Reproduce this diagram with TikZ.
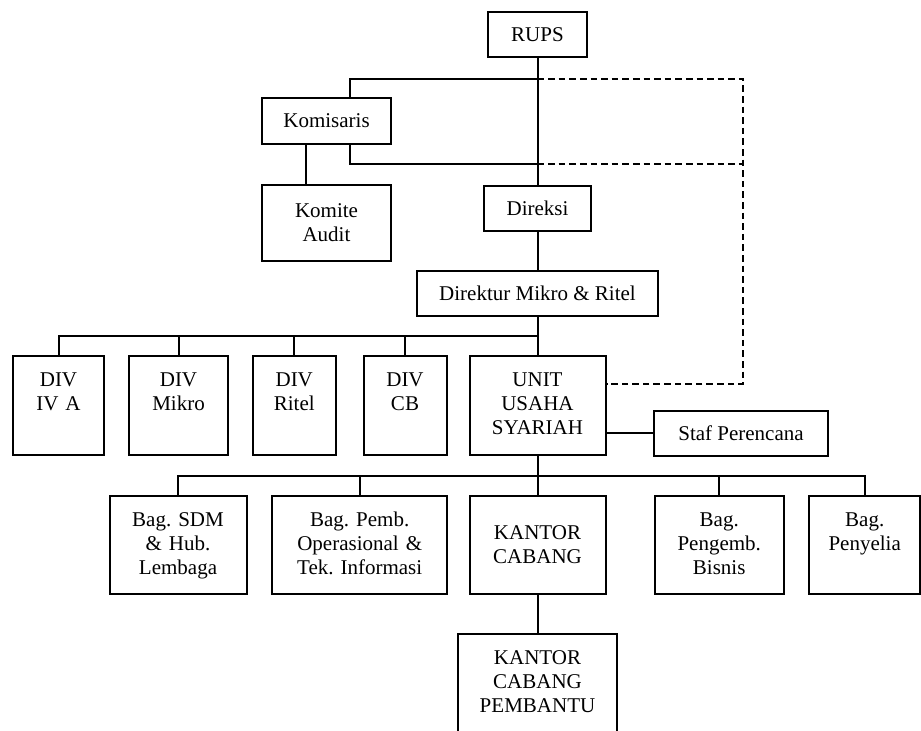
\documentclass[tikz,border=0pt]{standalone}
\usepackage{fontspec}
\setmainfont{Liberation Serif}
\usetikzlibrary{calc}

\tikzset{
  orgbox/.style={draw, line width=1pt, inner sep=0pt, align=center,
    font=\fontsize{10.5pt}{12pt}\selectfont\frenchspacing},
  topbox/.style 2 args={orgbox, text width=#1, text height=15.5pt, text depth=#2},
  link/.style={line width=1pt},
  dotlink/.style={line width=1pt, dash pattern=on 3.3pt off 2pt}
}

\begin{document}
\begin{tikzpicture}[x=0.5pt,y=-0.5pt]
  \useasboundingbox (0,0) rectangle (921,731);
  \clip (0,0) rectangle (921,731);

  % board level
  \node[orgbox, minimum width=49.5pt, minimum height=22.5pt] (rups) at (537.5,34.5) {RUPS};
  \node[orgbox, minimum width=64.5pt, minimum height=23pt] (kom) at (326.5,121) {Komisaris};
  \node[orgbox, minimum width=64.5pt, minimum height=38pt] (audit) at (326.5,223) {Komite\\Audit};
  \node[orgbox, minimum width=53.5pt, minimum height=22.5pt] (direksi) at (537.5,208.5) {Direksi};
  \node[orgbox, minimum width=120.5pt, minimum height=22.5pt] (dir) at (537.5,293.5) {Direktur Mikro \& Ritel};

  % divisions
  \node[topbox={45.5pt}{34pt}] (div1) at (58.5,405.5) {DIV\\IV A};
  \node[topbox={49.5pt}{34pt}] (div2) at (178.5,405.5) {DIV\\Mikro};
  \node[topbox={41.75pt}{34pt}] (div3) at (294.25,405.5) {DIV\\Ritel};
  \node[topbox={41.5pt}{34pt}] (div4) at (405,405.5) {DIV\\CB};
  \node[topbox={68pt}{34pt}] (uus) at (537.5,405.5) {UNIT\\USAHA\\SYARIAH};
  \node[orgbox, minimum width=87pt, minimum height=22.5pt] (staf) at (741,433.5) {Staf Perencana};

  % sections under UUS
  \node[topbox={68.5pt}{33.5pt}] (sdm) at (178,545) {Bag. SDM\\\& Hub.\\Lembaga};
  \node[topbox={87.5pt}{33.5pt}] (pemb) at (359.7,545) {Bag. Pemb.\\Operasional \&\\Tek. Informasi};
  \node[orgbox, minimum width=68pt, minimum height=49pt] (kc) at (537.5,545) {KANTOR\\CABANG};
  \node[topbox={64.5pt}{33.5pt}] (peng) at (719.2,545) {Bag.\\Pengemb.\\Bisnis};
  \node[topbox={55.5pt}{33.5pt}] (peny) at (864.7,545) {Bag.\\Penyelia};
  \node[topbox={79.5pt}{34.5pt}] (kcp) at (537.5,684) {KANTOR\\CABANG\\PEMBANTU};

  % junctions
  \coordinate (jA) at (537.5,79);
  \coordinate (jB) at (537.5,163.7);
  \coordinate (dA) at (743,79);
  \coordinate (dB) at (743,163.7);
  \coordinate (busA) at (537.5,336);
  \coordinate (busB) at (537.5,475.7);

  % lines
  \draw[link] (rups) -- (direksi);
  \draw[link] (direksi) -- (dir);
  \draw[link] ($(kom.north)+(23.5,0)$) |- (jA);
  \draw[link] ($(kom.south)+(23.5,0)$) |- (jB);
  \draw[link] ($(kom.south)+(-21,0)$) -- ($(audit.north)+(-21,0)$);
  \draw[dotlink] (jA) -- (dA) |- ($(uus.east)+(0,-21.5)$);
  \draw[dotlink] (jB) -- (dB);

  \draw[link] (dir) -- (uus);
  \foreach \d in {div1,div2,div3,div4}
    \draw[link] (\d.north) |- (busA);
  \draw[link] (staf.west) -- (staf.west -| uus.east);

  \draw[link] (uus) -- (kc);
  \foreach \b in {sdm,pemb,peng,peny}
    \draw[link] (\b.north) |- (busB);
  \draw[link] (kc) -- (kcp);
\end{tikzpicture}
\end{document}
